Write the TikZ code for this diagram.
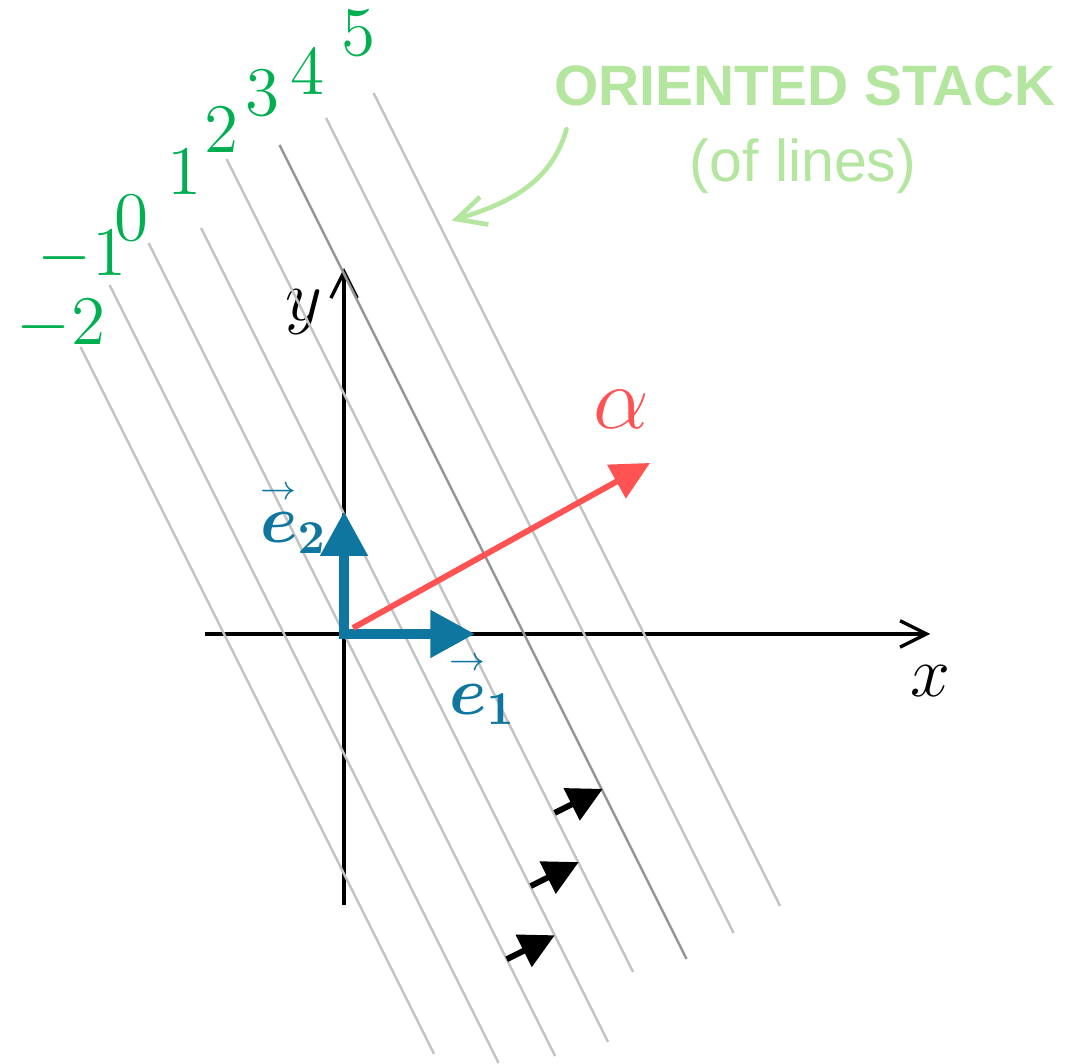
\RequirePackage{fix-cm}
\documentclass[tikz,border=0pt]{standalone}
\usepackage{amsmath,amssymb}
\usepackage{fontspec}
\usepackage{tikz}
\usetikzlibrary{arrows.meta}

\newfontfamily\notefont{Liberation Sans}
\definecolor{lvlgreen}{RGB}{0,176,80}
\definecolor{notegreen}{RGB}{180,230,160}
\definecolor{basisblue}{RGB}{15,118,160}
\definecolor{formred}{RGB}{255,82,82}
\definecolor{stackgray}{RGB}{195,195,195}
\definecolor{stackdark}{RGB}{150,150,150}
\newcommand{\basisvec}[1]{\overset{\scriptscriptstyle\rightarrow}{\boldsymbol{e}}_{\boldsymbol{#1}}}

\begin{document}
\begin{tikzpicture}[
  axis/.style={line width=0.8pt, -{Straight Barb[length=2.2mm, width=2.2mm]}},
  stackline/.style={line width=0.6pt},
  basis/.style={basisblue, line width=2.2pt, line cap=rect,
                -{Triangle[length=3.7mm, width=3.8mm]}},
  formvec/.style={formred, line width=1.4pt, -{Triangle[length=3.2mm, width=3.1mm]}},
  flow/.style={line width=1.4pt, -{Triangle[length=2.9mm, width=2.9mm]}},
  noteflow/.style={notegreen, line width=1.1pt, line cap=round,
                   -{Straight Barb[length=2.4mm, width=2.4mm]}},
  lvl/.style={lvlgreen, inner sep=0pt, font=\fontsize{16.5}{18}\selectfont},
  axlbl/.style={inner sep=0pt, font=\fontsize{17}{19}\selectfont},
  veclbl/.style={basisblue, inner sep=0pt, font=\fontsize{16}{18}\selectfont},
  note/.style={notegreen, inner sep=0pt},
]
\useasboundingbox (-2.867,-3.583) rectangle (6.183,5.283);

\coordinate (O)  at (0,0);
\coordinate (xs) at (-1.158,0);
\coordinate (xe) at (4.885,0);
\coordinate (ys) at (0,-2.258);
\coordinate (ye) at (0,3.05);
\draw[axis] (xs) -- (xe);
\draw[axis] (ys) -- (ye);
\node[axlbl] (xlbl) at (4.89,-0.39)   {$x$};
\node[axlbl] (ylbl) at (-0.337,2.685) {$y$};

\foreach \k/\ya/\yb/\c in {-2/2.392/-3.5/stackgray, -1/2.908/-3.575/stackgray,
                           0/3.258/-3.517/stackgray, 1/3.383/-3.4/stackgray,
                           2/3.958/-2.817/stackgray, 3/4.075/-2.708/stackdark,
                           4/4.3/-2.492/stackgray, 5/4.508/-2.267/stackgray} {
  \coordinate (top\k) at ({(\k-(\ya))/2},\ya);
  \coordinate (bot\k) at ({(\k-(\yb))/2},\yb);
  \draw[stackline, \c] (top\k) -- (bot\k);
}

\foreach \k/\x/\y in {-2/-2.358/2.575, -1/-2.183/3.15, 0/-1.773/3.467, 1/-1.333/3.85,
                      2/-1.025/4.2, 3/-0.683/4.508, 4/-0.3/4.683, 5/0.125/5.008}
  \node[lvl] (lvl\k) at (\x,\y) {$\k$};

\coordinate (e1) at (1.09,0);
\coordinate (e2) at (0,1.02);
\draw[basis] (O) -- (e1);
\draw[basis] (O) -- (e2);
\node[veclbl] (e1lbl) at (1.154,-0.45) {$\basisvec{1}$};
\node[veclbl] (e2lbl) at (-0.421,0.979) {$\basisvec{2}$};

\coordinate (a0) at (0.075,0.05);
\coordinate (a1) at (2.55,1.425);
\draw[formvec] (a0) -- (a1);
\node[formred, inner sep=0pt, font=\fontsize{21}{24}\selectfont] (alpha) at (2.314,1.867) {$\alpha$};

\foreach \k in {0,1,2} {
  \coordinate (f\k) at ({1.356+0.2*\k},{-2.711+0.61*\k});
  \coordinate (g\k) at ({1.756+0.2*\k},{-2.511+0.61*\k});
  \draw[flow] (f\k) -- (g\k);
}

\node[note, font=\notefont\bfseries\fontsize{13.5}{16}\selectfont] (stack) at (3.842,4.571) {ORIENTED STACK};
\node[note, font=\notefont\fontsize{14}{16}\selectfont] (oflines) at (3.825,3.9) {(of lines)};
\coordinate (c0) at (1.854,4.206);
\coordinate (c1) at (0.897,3.444);
\draw[noteflow] (c0) to[out=-106, in=17] (c1);
\end{tikzpicture}
\end{document}
